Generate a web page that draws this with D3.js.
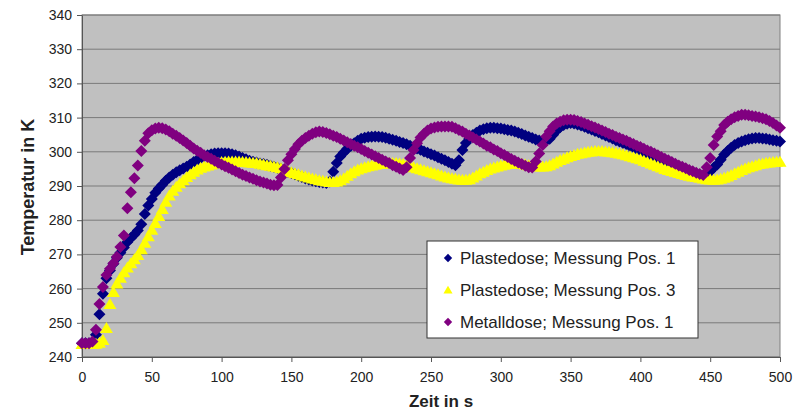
<!DOCTYPE html>
<html>
<head>
<meta charset="utf-8">
<script src="https://cdn.jsdelivr.net/npm/d3@7"></script>
<style>
    body { margin: 0; background: #fff; }
    text { font-family: "Liberation Sans", Arial, sans-serif; }
</style>
</head>
<body>
<div id="chart"></div>
<script>
// sample interval of the measurement in s
var step = 2.5;

// Plastedose; Messung Pos. 1 (one value every 2.5 s, 0..500 s)
var plastePos1 = [
    244.0,244.0,244.0,244.2,246.5,252.5,258.5,263.0,265.3,267.3,
    269.0,270.5,272.0,273.6,274.8,275.8,277.0,278.8,281.8,284.3,
    286.2,288.0,289.3,290.4,291.5,292.5,293.3,294.0,294.6,295.1,
    295.6,296.3,297.0,297.6,298.2,298.7,299.0,299.3,299.5,299.6,
    299.6,299.6,299.5,299.3,299.0,298.6,298.2,297.8,297.4,297.1,
    296.9,296.6,296.4,296.2,295.9,295.6,295.3,295.0,294.6,294.2,
    293.8,293.4,293.0,292.6,292.2,291.9,291.6,291.4,291.2,291.0,
    290.9,291.3,294.2,296.7,298.6,299.8,300.9,301.7,302.5,303.2,
    303.8,304.1,304.3,304.4,304.5,304.4,304.3,304.1,303.8,303.5,
    303.2,302.9,302.6,302.2,301.8,301.4,301.0,300.6,300.1,299.7,
    299.3,298.9,298.4,298.0,297.5,297.0,296.5,296.1,297.5,300.5,
    302.6,303.9,304.9,305.6,306.2,306.6,306.9,307.0,307.0,306.9,
    306.8,306.6,306.4,306.2,305.9,305.6,305.2,304.8,304.4,304.0,
    303.6,303.3,303.0,303.2,303.8,305.0,306.2,307.2,307.8,308.2,
    308.4,308.3,308.0,307.7,307.3,306.9,306.5,306.1,305.7,305.2,
    304.8,304.3,303.9,303.4,303.0,302.6,302.2,301.7,301.3,300.8,
    300.4,299.9,299.4,299.0,298.5,298.0,297.5,297.0,296.5,296.0,
    295.5,295.0,294.6,294.2,293.7,293.3,292.9,292.6,292.5,293.2,
    294.3,295.3,296.3,297.7,299.2,300.2,301.2,302.0,302.6,303.0,
    303.4,303.7,303.9,304.0,304.0,303.9,303.8,303.6,303.4,303.2,
    303.0
];

// Plastedose; Messung Pos. 3
var plastePos3 = [
    243.8,243.8,243.8,243.8,243.9,244.2,245.0,248.5,255.5,259.0,
    261.5,263.2,264.8,266.2,267.4,268.6,269.8,271.5,273.4,275.3,
    277.2,279.2,281.2,283.3,285.4,287.2,288.6,289.8,290.8,291.7,
    292.6,293.4,294.2,294.8,295.3,295.7,296.0,296.3,296.6,296.8,
    297.0,297.1,297.2,297.2,297.2,297.2,297.1,297.0,296.9,296.8,
    296.7,296.5,296.3,296.1,295.9,295.7,295.5,295.2,294.8,294.4,
    294.0,293.7,293.4,293.1,292.8,292.5,292.2,292.0,291.7,291.5,
    291.3,291.2,291.2,291.3,291.7,292.3,293.0,293.7,294.3,294.8,
    295.2,295.5,295.8,296.0,296.2,296.4,296.5,296.6,296.7,296.7,
    296.7,296.6,296.4,296.1,295.8,295.5,295.2,294.9,294.6,294.3,
    294.0,293.7,293.4,293.1,292.8,292.5,292.3,292.1,291.9,291.8,
    291.8,292.0,292.5,293.1,293.7,294.2,294.7,295.1,295.4,295.7,
    296.0,296.2,296.4,296.5,296.6,296.6,296.5,296.3,296.1,295.9,
    295.8,295.7,295.7,295.8,296.1,296.6,297.1,297.6,298.0,298.4,
    298.8,299.1,299.4,299.6,299.8,300.0,300.1,300.2,300.2,300.2,
    300.1,300.0,299.9,299.7,299.5,299.3,299.0,298.7,298.4,298.1,
    297.8,297.4,297.0,296.6,296.2,295.8,295.4,295.0,294.7,294.4,
    294.1,293.8,293.5,293.2,293.0,292.8,292.6,292.4,292.2,292.0,
    291.9,291.8,291.9,292.1,292.4,292.8,293.2,293.7,294.2,294.7,
    295.1,295.5,295.8,296.1,296.4,296.6,296.8,296.9,297.0,297.1,
    297.1
];

// Metalldose; Messung Pos. 1
var metallPos1 = [
    244.0,244.0,244.0,244.5,248.0,255.5,260.5,264.0,265.8,267.4,
    269.3,272.2,275.5,283.5,288.2,292.3,296.0,300.2,303.2,305.4,
    306.3,306.8,307.0,306.9,306.5,306.0,305.3,304.7,304.0,303.3,
    302.6,301.8,301.0,300.3,299.7,299.0,298.5,298.0,297.4,296.8,
    296.3,295.8,295.3,294.8,294.3,293.8,293.3,292.9,292.5,292.1,
    291.7,291.3,291.0,290.7,290.4,290.2,290.3,292.5,295.0,297.5,
    299.3,300.8,302.2,303.2,304.0,304.7,305.3,305.7,305.9,305.8,
    305.5,305.1,304.7,304.3,303.8,303.3,302.8,302.3,301.8,301.3,
    300.8,300.2,299.7,299.2,298.7,298.2,297.7,297.2,296.7,296.1,
    295.6,295.1,294.7,295.5,298.2,300.5,302.5,304.2,305.3,306.2,
    306.8,307.1,307.3,307.4,307.4,307.4,307.3,306.9,306.4,305.9,
    305.3,304.8,304.2,303.6,303.0,302.4,301.8,301.3,300.7,300.2,
    299.6,299.1,298.5,297.9,297.4,296.9,296.4,295.9,295.5,295.4,
    297.2,299.5,302.0,304.5,306.0,307.4,308.3,308.8,309.2,309.4,
    309.4,309.3,309.0,308.7,308.3,307.9,307.5,307.1,306.7,306.2,
    305.8,305.3,304.9,304.4,304.0,303.6,303.2,302.7,302.3,301.8,
    301.4,300.9,300.4,300.0,299.5,299.0,298.5,298.0,297.5,297.0,
    296.5,296.0,295.6,295.2,294.7,294.3,293.9,293.5,293.2,295.5,
    298.2,302.0,304.5,306.0,307.8,308.8,309.5,310.1,310.5,310.8,
    310.8,310.7,310.5,310.3,310.1,309.8,309.5,309.0,308.4,307.7,
    307.0
];

var seriesNames = ["Plastedose; Messung Pos. 1", "Plastedose; Messung Pos. 3", "Metalldose; Messung Pos. 1"];
var yTicks = [240, 250, 260, 270, 280, 290, 300, 310, 320, 330, 340];
var xTicks = [0, 50, 100, 150, 200, 250, 300, 350, 400, 450, 500];

function init() {

    //width and height of the page
    var w = 800;
    var h = 413;

    //plot area
    var left = 82, right = 780, top = 15, bottom = 357;

    var colors = ["#000080", "#ffff00", "#800080"];

    //marker shapes (excel style)
    var diamond = "M0,-6L6,0L0,6L-6,0Z";
    var triangle = "M0,-6L6.5,5L-6.5,5Z";
    var shapes = [diamond, triangle, diamond];

    var series = [plastePos1, plastePos3, metallPos1];

    //Defines the x-scale
    var xScale = d3.scaleLinear()
        .domain([0, 500])
        .range([left, right]);

    //Defines the y-scale
    var yScale = d3.scaleLinear()
        .domain([240, 340])
        .range([bottom, top]);

    var svg = d3.select("#chart")
        .append("svg")
        .attr("width", w)
        .attr("height", h);

    //grey plot area
    svg.append("rect")
        .attr("x", left)
        .attr("y", top)
        .attr("width", right - left)
        .attr("height", bottom - top)
        .attr("fill", "#c0c0c0")
        .attr("stroke", "#808080");

    //horizontal gridlines
    svg.append("g")
        .selectAll("line")
        .data(yTicks)
        .enter()
        .append("line")
        .attr("x1", left)
        .attr("x2", right)
        .attr("y1", function (d) { return yScale(d); })
        .attr("y2", function (d) { return yScale(d); })
        .attr("stroke", "#7a7a7a")
        .attr("stroke-width", 1);

    //Creates the x-axis
    var xAxis = svg.append("g")
        .attr("transform", "translate(0," + bottom + ")")
        .call(d3.axisBottom(xScale).tickValues(xTicks).tickSize(5).tickPadding(10).tickSizeOuter(0));

    //Creates the y-axis
    var yAxis = svg.append("g")
        .attr("transform", "translate(" + left + ",0)")
        .call(d3.axisLeft(yScale).tickValues(yTicks).tickSize(5).tickPadding(5).tickSizeOuter(0));

    [xAxis, yAxis].forEach(function (a) {
        a.selectAll("path").attr("stroke", "#555");
        a.selectAll("line").attr("stroke", "#555");
        a.selectAll("text")
            .attr("fill", "#222")
            .style("font-size", "14px")
            .style("font-family", "'Liberation Sans', Arial, sans-serif");
    });

    //markers of each series
    series.forEach(function (values, s) {
        svg.append("g")
            .selectAll("path")
            .data(values)
            .enter()
            .append("path")
            .attr("d", shapes[s])
            .attr("transform", function (d, i) {
                return "translate(" + xScale(i * step) + "," + yScale(d) + ")";
            })
            .attr("fill", colors[s]);
    });

    //axis titles
    svg.append("text")
        .attr("transform", "translate(28," + ((top + bottom) / 2 + 1) + ") rotate(-90)")
        .attr("text-anchor", "middle")
        .attr("dominant-baseline", "central")
        .style("font-size", "18px")
        .style("font-weight", "bold")
        .attr("fill", "#222")
        .text("Temperatur in K");

    svg.append("text")
        .attr("x", (left + right) / 2 + 10)
        .attr("y", 407)
        .attr("text-anchor", "middle")
        .style("font-size", "17px")
        .style("font-weight", "bold")
        .attr("fill", "#222")
        .text("Zeit in s");

    //legend
    var legend = svg.append("g").attr("transform", "translate(427,241)");

    legend.append("rect")
        .attr("width", 271)
        .attr("height", 97)
        .attr("fill", "#fff")
        .attr("stroke", "#333");

    var items = legend.selectAll("g.item")
        .data(seriesNames)
        .enter()
        .append("g")
        .attr("class", "item")
        .attr("transform", function (d, i) { return "translate(21," + (17 + i * 32) + ")"; });

    items.append("path")
        .attr("d", function (d, i) { return shapes[i]; })
        .attr("transform", "scale(0.7)")
        .attr("fill", function (d, i) { return colors[i]; });

    items.append("text")
        .attr("x", 12)
        .attr("dominant-baseline", "central")
        .style("font-size", "17px")
        .attr("fill", "#222")
        .text(function (d) { return d; });
}

window.onload = init;
</script>
</body>
</html>
